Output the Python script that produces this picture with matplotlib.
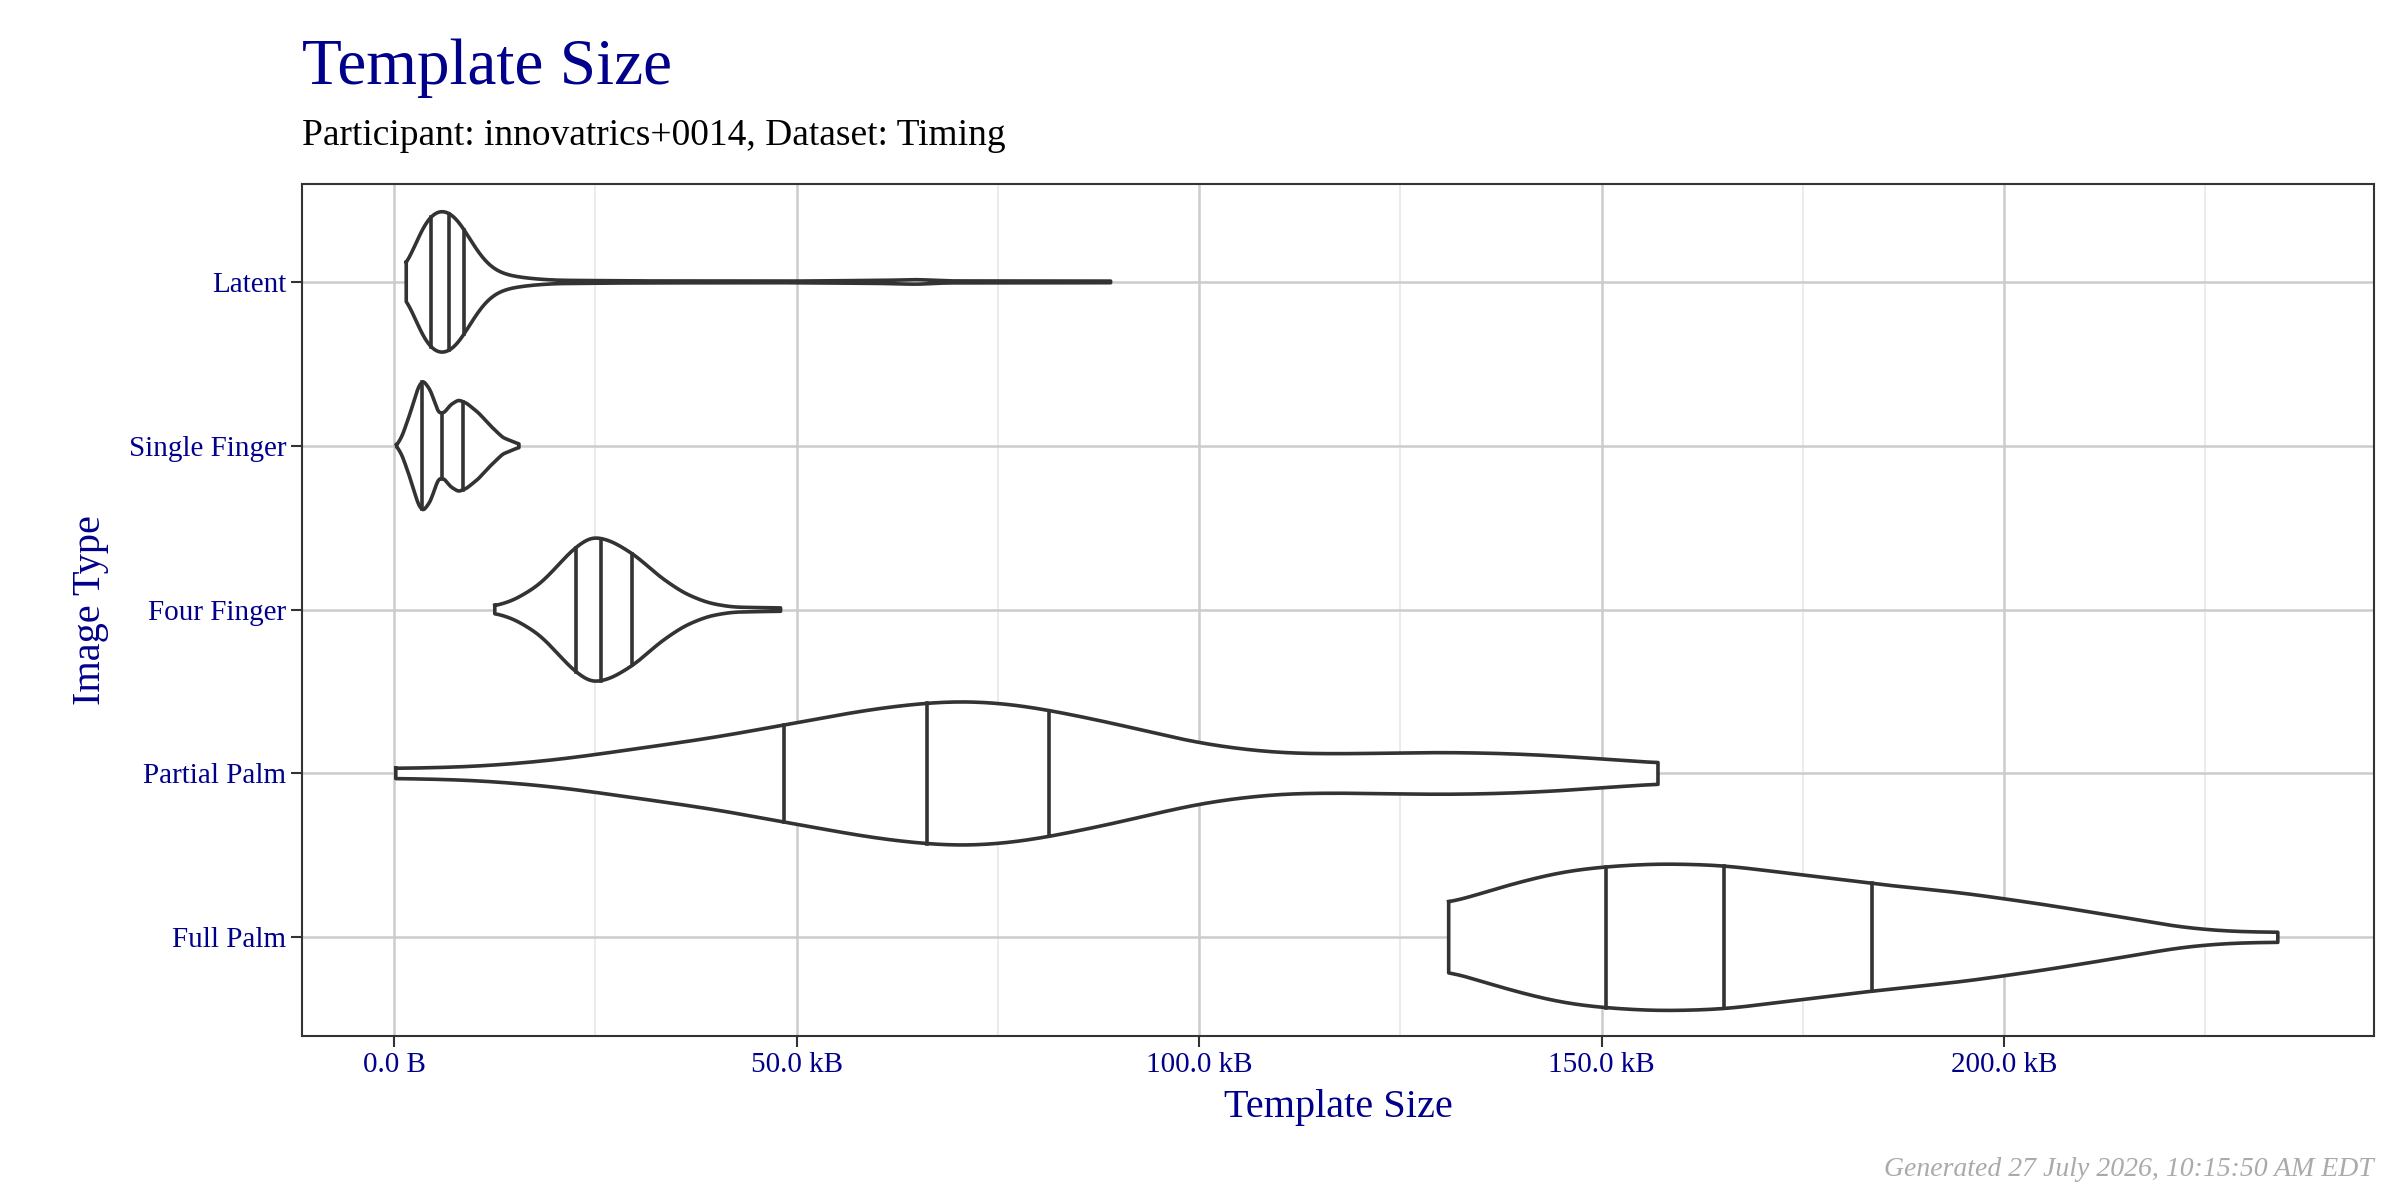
import matplotlib
matplotlib.use("Agg")
import matplotlib.pyplot as plt
import numpy as np

categories = ["Latent", "Single Finger", "Four Finger", "Partial Palm", "Full Palm"]
# density profiles (x in kB, relative half-width)
latent_x = [1.5, 2, 3, 4, 5.5, 7, 8.5, 10, 12, 14, 17, 20, 30, 50, 62, 65, 68, 89]
latent_w = [0.05, 0.12, 0.3, 0.4, 0.45, 0.44, 0.35, 0.2, 0.08, 0.04, 0.02, 0.01, 0.006, 0.005, 0.01, 0.016, 0.006, 0.005]
single_x = [0.3, 1, 2, 3, 3.6, 4.5, 5.5, 6.2, 7, 8, 9, 10.5, 12, 13.5, 15.5]
single_w = [0.0, 0.06, 0.2, 0.36, 0.40, 0.34, 0.2, 0.2, 0.25, 0.28, 0.26, 0.2, 0.12, 0.05, 0.01]
four_x = [12.5, 15, 18, 20, 22, 24.5, 27, 30, 33, 36, 39, 42, 48]
four_w = [0.02, 0.06, 0.15, 0.25, 0.36, 0.45, 0.42, 0.33, 0.2, 0.1, 0.04, 0.015, 0.01]
partial_x = [0.2, 10, 20, 30, 40, 50, 60, 70, 78, 90, 100, 110, 120, 130, 140, 150, 157]
partial_w = [0.03, 0.04, 0.08, 0.15, 0.22, 0.31, 0.4, 0.45, 0.42, 0.3, 0.18, 0.12, 0.12, 0.13, 0.12, 0.09, 0.06]
full_x = [131, 135, 140, 145, 150, 157, 165, 175, 185, 195, 205, 215, 222, 228, 234]
full_w = [0.2, 0.27, 0.34, 0.4, 0.43, 0.45, 0.44, 0.38, 0.32, 0.27, 0.2, 0.12, 0.06, 0.035, 0.03]
quartiles = [[4.6, 6.8, 8.7], [3.5, 6.0, 8.5], [22.6, 25.7, 29.6], [48.4, 66.2, 81.4], [150.5, 165.2, 183.6]]

profiles = [(latent_x, latent_w), (single_x, single_w), (four_x, four_w),
            (partial_x, partial_w), (full_x, full_w)]

def smooth_profile(xs, ws, n=600, k=15):
    xf = np.linspace(xs[0], xs[-1], n)
    wf = np.interp(xf, xs, ws)
    ker = np.exp(-0.5 * (np.arange(-3 * k, 3 * k + 1) / k) ** 2)
    ker /= ker.sum()
    padded = np.pad(wf, 3 * k, mode="edge")
    ws2 = np.convolve(padded, ker, mode="valid")
    return xf, ws2

blue = "#00008B"
plt.rcParams['font.family'] = ['Liberation Serif', 'DejaVu Serif']
fig = plt.figure(figsize=(24, 12), dpi=100)
ax = fig.add_axes([0.126, 0.137, 0.863, 0.710])

for i, ((xs, ws), q) in enumerate(zip(profiles, quartiles)):
    k = 8 if i < 2 else 15
    xf, wf = smooth_profile(xs, ws, k=k)
    poly_x = np.concatenate([xf, xf[::-1], [xf[0]]])
    poly_y = np.concatenate([i - wf, (i + wf)[::-1], [i - wf[0]]])
    ax.fill(poly_x, poly_y, color="white", zorder=3)
    ax.plot(poly_x, poly_y, color="#333333", lw=2.6, zorder=4)
    for qv in q:
        w = np.interp(qv, xf, wf)
        ax.plot([qv, qv], [i - w, i + w], color="#333333", lw=2.6, zorder=4)

ax.set_xlim(-11.4, 245.9)
ax.set_ylim(4.6, -0.6)
ax.set_yticks(range(len(categories)))
ax.set_yticklabels(categories)
ax.set_xticks([0, 50, 100, 150, 200])
ax.set_xticklabels(["0.0 B", "50.0 kB", "100.0 kB", "150.0 kB", "200.0 kB"])
ax.set_xticks([25, 75, 125, 175, 225], minor=True)
ax.grid(True, which="major", color="#cccccc", lw=1.8, zorder=0)
ax.grid(True, which="minor", axis="x", color="#e8e8e8", lw=1.2, zorder=0)
ax.set_axisbelow(True)
ax.tick_params(which="major", labelsize=21, labelcolor=blue, color="#333333", length=8, width=1.5)
ax.tick_params(which="minor", length=0)
for s in ax.spines.values():
    s.set_color("#333333"); s.set_linewidth(1.5)
ax.set_xlabel("Template Size", fontsize=29, color=blue, labelpad=8)
ax.set_ylabel("Image Type", fontsize=29, color=blue, labelpad=14)

fig.text(0.126, 0.93, "Template Size", fontsize=47, color=blue, ha="left", va="baseline")
fig.text(0.126, 0.879, "Participant: innovatrics+0014, Dataset: Timing", fontsize=27, color="black", ha="left", va="baseline")
fig.text(0.989, 0.015, "Generated 27 July 2026, 10:15:50 AM EDT", fontsize=20, color="#aaaaaa",
         style="italic", ha="right", va="bottom")
fig.savefig("out.png", dpi=100)
